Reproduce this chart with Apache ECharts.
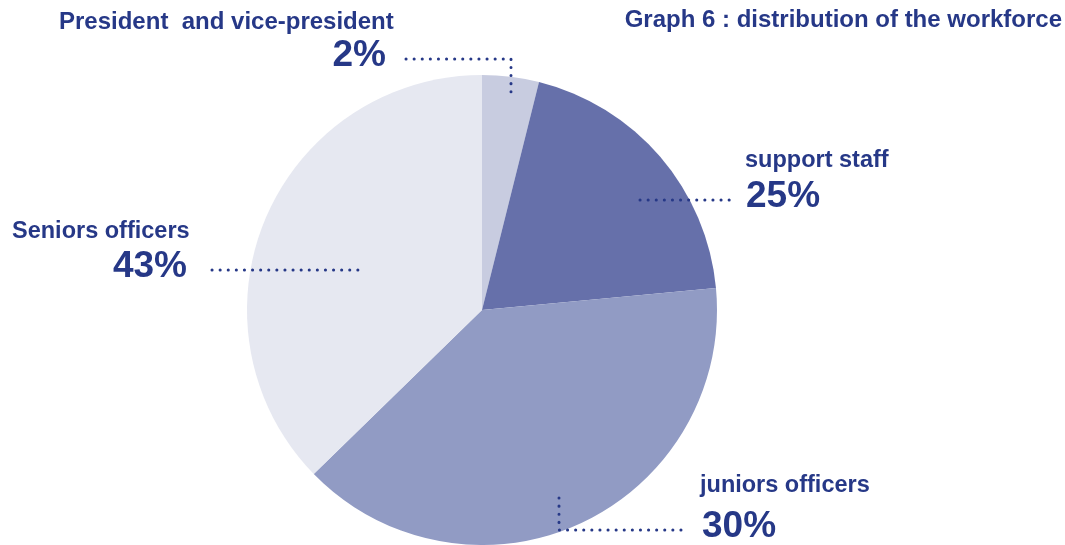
<!DOCTYPE html>
<html>
<head>
<meta charset="utf-8">
<script src="https://cdn.jsdelivr.net/npm/echarts@6/dist/echarts.min.js"></script>
<style>
html,body{margin:0;padding:0;background:#fff;}
#chart{width:1065px;height:545px;}
</style>
</head>
<body>
<div id="chart"></div>
<script>
// Data
const categories = ['President  and vice-president', 'support staff', 'juniors officers', 'Seniors officers'];
// slice sizes as drawn in the picture (share of the circle, %)
const sliceValues = [3.9, 19.6, 39.2, 37.3];
// percentages printed on the chart
const printedLabels = ['2%', '25%', '30%', '43%'];
const titleText = 'Graph 6 : distribution of the workforce';

// Styles / layout
const sliceColors = ['#c8cce0', '#6670aa', '#919bc4', '#e6e8f1'];
const textColor = '#263887';
const font = '"Liberation Sans", Arial, Helvetica, sans-serif';
const nameSize = 23.5, pctSize = 37;

const labelLayout = [
  { name: { x: 59, y: 22, align: 'left', size: 24 }, pct: { x: 386, y: 56, align: 'right' },
    line: [[406, 59], [511, 59], [511, 92]] },
  { name: { x: 745, y: 161, align: 'left' }, pct: { x: 746, y: 197, align: 'left' },
    line: [[640, 200], [734, 200]] },
  { name: { x: 700, y: 486, align: 'left' }, pct: { x: 702, y: 527, align: 'left' },
    line: [[559, 498], [559, 530], [685, 530]] },
  { name: { x: 12, y: 232, align: 'left' }, pct: { x: 187, y: 267, align: 'right' },
    line: [[212, 270], [358, 270]] }
];

const graphics = [];
graphics.push({
  type: 'text', right: 3, top: 8, z: 10,
  style: { text: titleText, fill: textColor, font: 'bold 24px ' + font }
});
labelLayout.forEach(function (l, i) {
  graphics.push({
    type: 'polyline', z: 10,
    shape: { points: l.line },
    style: { stroke: textColor, lineWidth: 3, lineDash: [0.1, 8], lineCap: 'round', fill: null }
  });
  graphics.push({
    type: 'text', x: l.name.x, y: l.name.y, z: 10,
    style: { text: categories[i], fill: textColor, font: 'bold ' + (l.name.size || nameSize) + 'px ' + font,
      textAlign: l.name.align, textVerticalAlign: 'middle' }
  });
  graphics.push({
    type: 'text', x: l.pct.x, y: l.pct.y, z: 10,
    style: { text: printedLabels[i], fill: textColor, font: 'bold ' + pctSize + 'px ' + font,
      textAlign: l.pct.align, textVerticalAlign: 'middle' }
  });
});

const chart = echarts.init(document.getElementById('chart'));
chart.setOption({
  animation: false,
  backgroundColor: '#ffffff',
  graphic: graphics,
  series: [{
    type: 'pie',
    center: [482, 310],
    radius: 235,
    startAngle: 90,
    clockwise: true,
    silent: true,
    label: { show: false },
    labelLine: { show: false },
    itemStyle: { borderWidth: 0 },
    data: categories.map(function (c, i) {
      return { name: c, value: sliceValues[i], itemStyle: { color: sliceColors[i] } };
    })
  }]
});
</script>
</body>
</html>
